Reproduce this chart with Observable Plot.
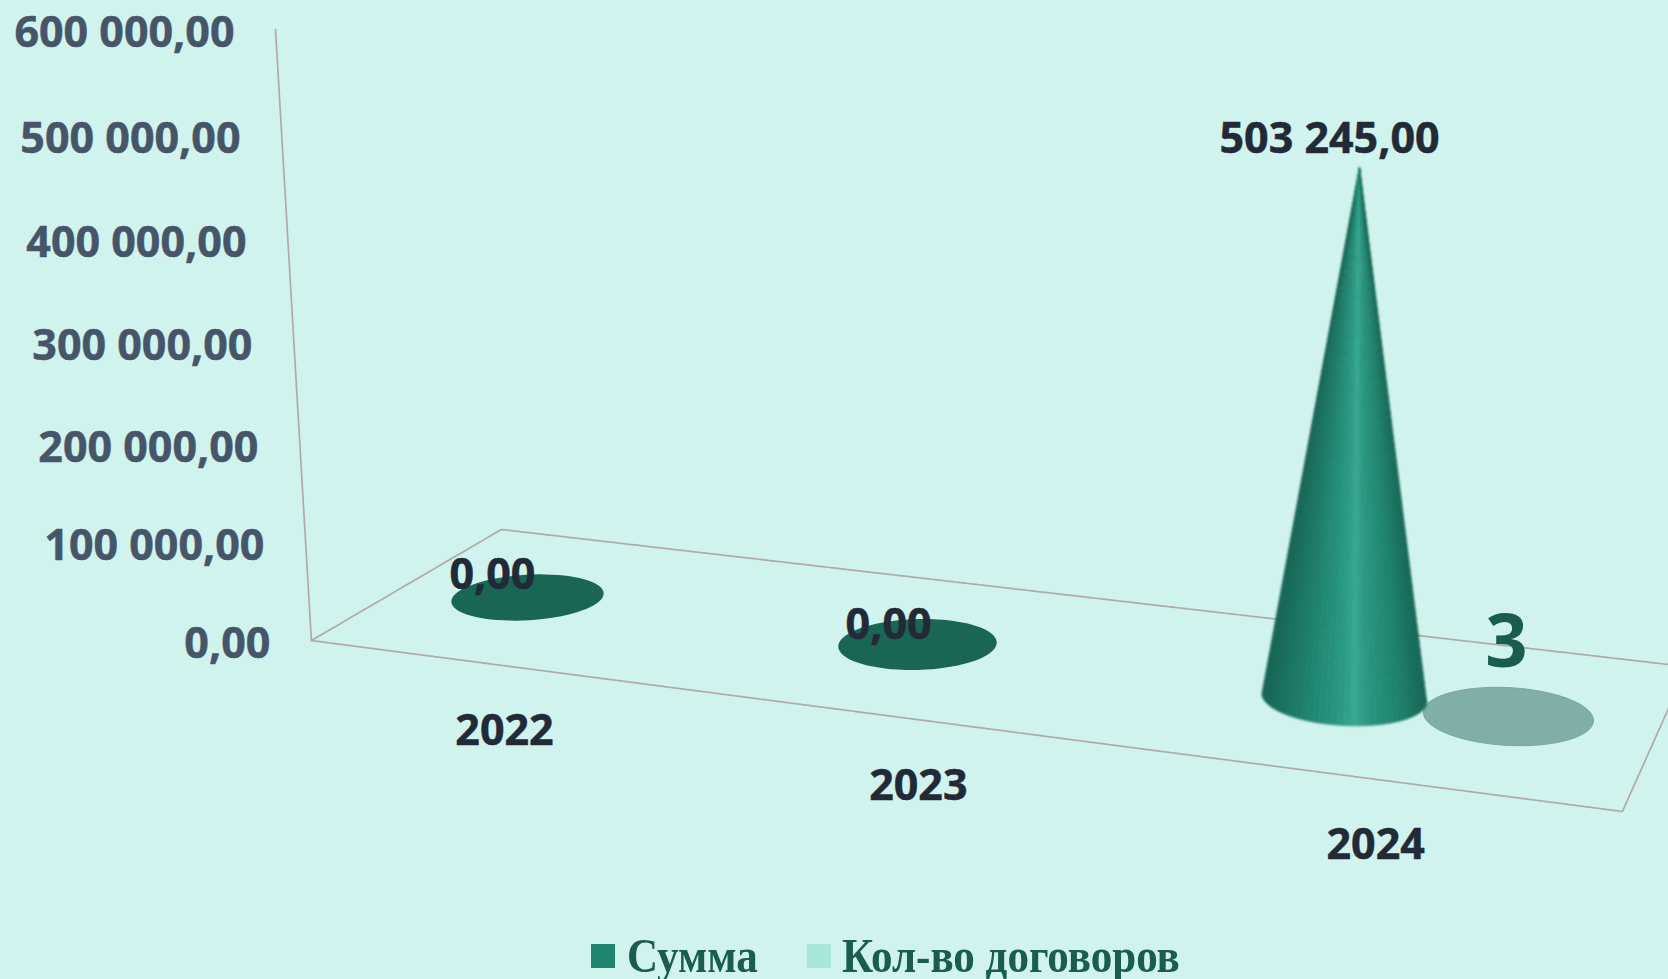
<!DOCTYPE html>
<html lang="ru">
<head>
<meta charset="utf-8">
<script src="https://cdn.jsdelivr.net/npm/d3@7"></script>
<script src="https://cdn.jsdelivr.net/npm/@observablehq/plot@0.6"></script>
<style>
  html, body { margin: 0; padding: 0; background: #d1f3ed; overflow: hidden; width: 1668px; height: 979px; }
  svg { display: block; }
  #legend { position: relative; width: 1668px; height: 54px; overflow: hidden;
            font: bold 48px "Liberation Serif", serif; color: #1a5c4d; }
  #legend i { position: absolute; top: 19px; width: 24px; height: 24px; }
  #legend span { position: absolute; top: 8px; white-space: nowrap; line-height: 46px;
                 transform: scaleX(0.896); transform-origin: left center; }
</style>
</head>
<body>
<div id="chart"></div>
<div id="legend">
  <i style="left:591px;background:#20856f"></i><span style="left:627px">Сумма</span>
  <i style="left:807px;background:#a8e6da"></i><span style="left:842px">Кол-во договоров</span>
</div>
<script>
// ---- data ----
const years = [2022, 2023, 2024];
const amounts = [0, 0, 503245];
const contractsYear = 2024;
const contractsValue = 3;
const valueTicks = [0, 100000, 200000, 300000, 400000, 500000, 600000];

// ---- layout of the pseudo-3D scene, in data units of the two scales ----
const W = 1668, H = 925;
const xScale = { type: "linear", domain: [2020.649, 2022, 2023, 2024, 2024.759], range: [0, 527, 917, 1344, 1668] };
const yScale = {
  type: "linear",
  domain: [-282000, 0, 100000, 200000, 300000, 400000, 500000, 600000, 632000],
  range:  [H, 643, 545, 447, 345, 242, 138, 32, 0]
};
const floorLift = { 2022: 46939, 2023: -1000, 2024: -54000 };   // floor height of each base
const contractsShift = 164 / 427, contractsFloor = -74000;
const depthGain = 1.045;                                        // cones stand closer than the wall
const wallX = v => 2021.446 - (v / 600000) * 0.092;

const money = d3.formatLocale({ decimal: ",", thousands: " ", grouping: [3] }).format(",.2f");

// a sheared ellipse used as a dot symbol, drawn around the scaled position
const disc = (rx, ry, s, k) => ({
  draw(ctx) {
    const n = 72;
    for (let i = 0; i < n; i++) {
      const t = (2 * Math.PI * i) / n;
      const px = rx * Math.cos(t) - s * Math.sin(t), py = ry * Math.sin(t) + k * Math.cos(t);
      i ? ctx.lineTo(px, py) : ctx.moveTo(px, py);
    }
    ctx.closePath();
  }
});

// the standing cone: shaded facets from tip to base rim
const shade = d3.scaleLinear(
  [0, .1, .3, .48, .56, .65, .85, 1],
  ["#125f4f", "#176f5c", "#1f8670", "#2a9a83", "#37a78f", "#2a957f", "#1c8069", "#126352"]
);
function coneFacets(year, value) {
  const floor = floorLift[year], rx = 82.5, ry = 28, k = 4, N = 40, rows = [];
  const tipValue = floor + value * depthGain;
  const rim = t => ({
    year: year + (rx * Math.cos(t)) / 427,
    level: floor - (ry * Math.sin(t) + k * Math.cos(t)) * 1000
  });
  for (let i = 0; i < N; i++) {
    const a = Math.PI * (1 - i / N), b = Math.PI * (1 - (i + 1) / N);
    const c = shade((Math.cos((a + b) / 2) + 1) / 2);
    rows.push({ f: i, c, year: year + 15 / 427, level: tipValue });
    rows.push({ f: i, c, ...rim(a) });
    rows.push({ f: i, c, ...rim(b) });
  }
  return rows;
}

const frame = [
  { year: 2021.354, level: 603000 }, { year: 2021.446, level: 3000 },
  { year: 2024.651, level: -168000 }, { year: 2024.759, level: -65000 }
];
const frameBack = [
  { year: 2021.446, level: 3000 }, { year: 2021.933, level: 116327 }, { year: 2024.759, level: -21000 }
];

const yearLabelX = [2021.941, 2023.002, 2024.073];
const yearLabelY = [-87000, -142000, -201000];
const valueLabels = [
  { year: 2021.91, level: 70408, value: amounts[0] },
  { year: 2022.926, level: 19400, value: amounts[1] },
  { year: 2023.965, level: 500000, value: amounts[2] }
];

const textBase = { fontFamily: "Open Sans", fontWeight: 700, fontSize: 43, dy: 1, strokeWidth: 0.5 };
const lineStyle = { stroke: "#aeaaa8", strokeWidth: 1.7, strokeDasharray: "7,1", imageFilter: "blur(0.4px)" };
const chart = Plot.plot({
  width: W, height: H,
  margin: 0,
  x: { ...xScale, axis: null },
  y: { ...yScale, axis: null },
  color: { type: "identity" },
  style: { background: "#d1f3ed" },
  marks: [
    Plot.line(frameBack, { x: "year", y: "level", ...lineStyle }),
    Plot.line(frame, { x: "year", y: "level", ...lineStyle }),
    // flat "Сумма" bases for the zero years
    Plot.dot([years[0]], { x: d => d, y: d => floorLift[d], r: 1, fill: "#1a6654", stroke: "none", symbol: disc(76, 23, 5, -2.5) }),
    Plot.dot([years[1]], { x: d => d, y: d => floorLift[d], r: 1, fill: "#1a6654", stroke: "none", symbol: disc(79, 25.5, 6, 0) }),
    // "Кол-во договоров" disc
    Plot.dot([contractsYear], { x: d => d + contractsShift, y: () => contractsFloor + 1000, r: 1, fill: "#7fafa5", stroke: "#76a79c", strokeWidth: 1, symbol: disc(85, 29, -3, 3) }),
    // "Сумма" cone
    Plot.line(coneFacets(years[2], amounts[2]), { x: "year", y: "level", z: "f", fill: "c", stroke: "c", strokeWidth: 0.8, imageFilter: "blur(0.8px)" }),
    // value axis labels, stepping along the slanted wall
    Plot.text(valueTicks, { x: wallX, y: d => d, text: money, dx: -41, textAnchor: "end", fill: "#475569", stroke: "#475569", ...textBase }),
    // year labels
    Plot.text(years, { x: (d, i) => yearLabelX[i], y: (d, i) => yearLabelY[i], text: d => String(d), fill: "#212a36", stroke: "#212a36", ...textBase }),
    // value labels
    Plot.text(valueLabels, { x: "year", y: "level", text: d => money(d.value), fill: "#212a36", stroke: "#212a36", ...textBase }),
    Plot.text([contractsValue], { x: () => contractsYear + 162 / 427, y: () => 0, text: d => String(d), fill: "#1a5c4d", fontFamily: "Open Sans", fontWeight: 700, fontSize: 74 })
  ]
});
document.getElementById("chart").append(chart);
</script>
</body>
</html>
